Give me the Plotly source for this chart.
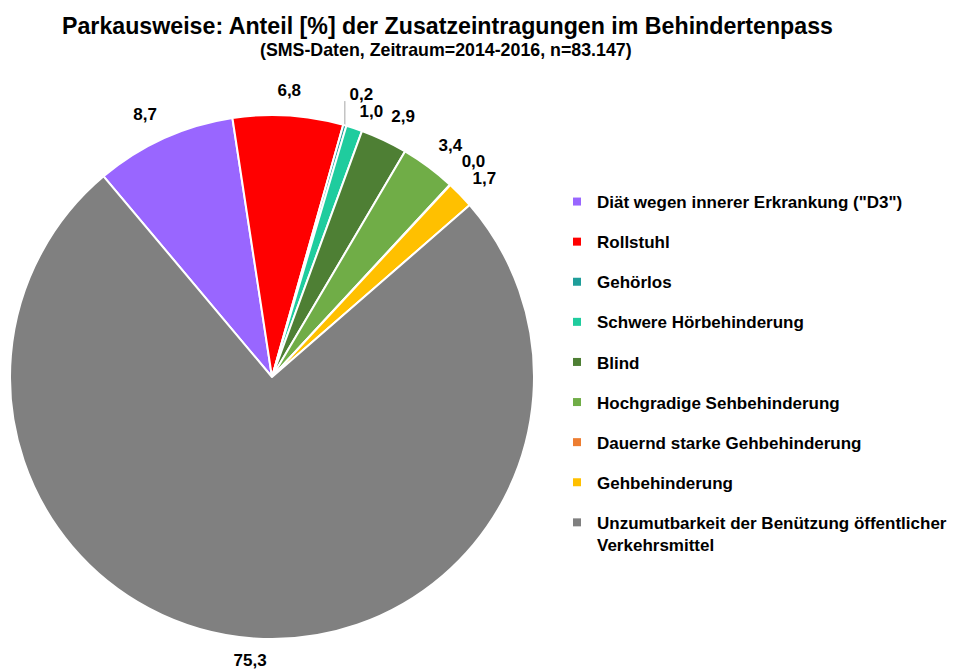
import math
import plotly.graph_objects as go

labels = [
    'Diät wegen innerer Erkrankung ("D3")',
    "Rollstuhl",
    "Gehörlos",
    "Schwere Hörbehinderung",
    "Blind",
    "Hochgradige Sehbehinderung",
    "Dauernd starke Gehbehinderung",
    "Gehbehinderung",
    "Unzumutbarkeit der Benützung öffentlicher<br>Verkehrsmittel",
]
values = [8.7, 6.8, 0.2, 1.0, 2.9, 3.4, 0.03, 1.7, 75.3]
colors = ["#9966FF", "#FF0000", "#1F9E9A", "#1FCC9E", "#4E7F34",
          "#70AD47", "#ED7D31", "#FFC000", "#808080"]

title = "Parkausweise: Anteil [%] der Zusatzeintragungen im Behindertenpass"
subtitle = "(SMS-Daten, Zeitraum=2014-2016, n=83.147)"

W, H = 958, 670
OFF = 8                      # page body margin of the browser
START = -40                  # first slice starts 40° left of 12 o'clock
cx, cy, r = 272 - OFF, 377 - OFF, 262
LABEL_D = 279                # distance (px) of the label's near corner from centre
FS = 17                      # data label font size


def px(x):
    return (x - OFF) / W


def py(y):
    return 1 - (y - OFF) / H


def text_width(s, fs):
    return sum(0.278 if ch in ",." else 0.556 for ch in s) * fs


domain = dict(x=[(cx - r) / W, (cx + r) / W], y=[1 - (cy + r) / H, 1 - (cy - r) / H])

fig = go.Figure()

fig.add_trace(go.Pie(
    labels=labels,
    values=values,
    sort=False,
    direction="clockwise",
    rotation=START,
    marker=dict(colors=colors, line=dict(color="white", width=2)),
    textinfo="none",
    hoverinfo="skip",
    showlegend=False,
    domain=domain,
))

# ---- data labels: outside end of each slice (pixel offsets from pie centre, y down)
texts = [f"{v:.1f}".replace(".", ",") for v in values]
total = sum(values)
centers, edges = [], []
cum = 0.0
for v, t in zip(values, texts):
    a = math.radians(START + 360.0 * (cum + v / 2) / total)
    cum += v
    s, c = math.sin(a), math.cos(a)
    edges.append((r * s, -r * c))
    w = text_width(t, FS)
    hx = w / 2 if s > 0.2 else (-w / 2 if s < -0.2 else 0.0)
    vy = -0.5 * FS if c > 0.2 else (0.25 * FS if c < -0.2 else 0.0)
    centers.append([LABEL_D * s + hx, -LABEL_D * c + vy])

# simple collision avoidance between neighbouring labels
box_h = 0.72 * FS + 5
shifted = [0.0] * len(values)
for i in range(1, len(values)):
    (x0, y0), (x1, y1) = centers[i - 1], centers[i]
    w0, w1 = text_width(texts[i - 1], FS), text_width(texts[i], FS)
    if abs(x1 - x0) < (w0 + w1) / 2 + 2 and abs(y1 - y0) < box_h:
        need = (box_h - abs(y1 - y0)) / 2
        up, down = (i - 1, i) if y0 <= y1 else (i, i - 1)
        centers[up][1] -= need
        centers[down][1] += need
        shifted[up] -= need
        shifted[down] += need

lx = [x / r for x, _ in centers]
ly = [-(y + 0.11 * FS) / r for _, y in centers]

# leader lines for labels pushed clearly away from their slice
for i, (ex, ey) in enumerate(edges):
    if shifted[i] < -5 and ey < 0:
        fig.add_trace(go.Scatter(
            x=[ex / r, ex / r],
            y=[-ey / r, -(centers[i][1] + 0.45 * FS) / r],
            mode="lines", line=dict(color="#A6A6A6", width=1),
            hoverinfo="skip", showlegend=False,
        ))

fig.add_trace(go.Scatter(
    x=lx, y=ly,
    mode="text",
    text=texts,
    textposition="middle center",
    textfont=dict(family="Liberation Sans", size=FS, color="black", weight="bold"),
    cliponaxis=False,
    hoverinfo="skip",
    showlegend=False,
))

# ---- legend entries
for i, (lab, col) in enumerate(zip(labels, colors)):
    fig.add_trace(go.Scatter(
        x=[None], y=[None], mode="markers", name=lab,
        marker=dict(symbol="square", size=8, color=col),
        legendgroup=str(i), showlegend=True, hoverinfo="skip",
    ))

fig.update_layout(
    width=W, height=H,
    margin=dict(l=0, r=0, t=0, b=0),
    paper_bgcolor="white",
    plot_bgcolor="rgba(0,0,0,0)",
    xaxis=dict(visible=False, range=[(0 - cx) / r, (W - cx) / r], fixedrange=True),
    yaxis=dict(visible=False, range=[(cy - H) / r, cy / r], fixedrange=True),
    showlegend=True,
    legend=dict(
        x=(597 - 40 - OFF) / W, y=py(184), xanchor="left", yanchor="top",
        font=dict(family="Liberation Sans", size=17, color="black", weight="bold"),
        valign="top",
        traceorder="grouped",
        tracegroupgap=15,
        bgcolor="rgba(0,0,0,0)",
    ),
    annotations=[
        dict(text=title, x=px(447), y=py(26), xref="paper", yref="paper",
             showarrow=False, xanchor="center", yanchor="middle",
             font=dict(family="Liberation Sans", size=23.2, color="black", weight="bold")),
        dict(text=subtitle, x=px(446), y=py(50), xref="paper", yref="paper",
             showarrow=False, xanchor="center", yanchor="middle",
             font=dict(family="Liberation Sans", size=17.8, color="black", weight="bold")),
    ],
)

fig.write_html("out.html")
